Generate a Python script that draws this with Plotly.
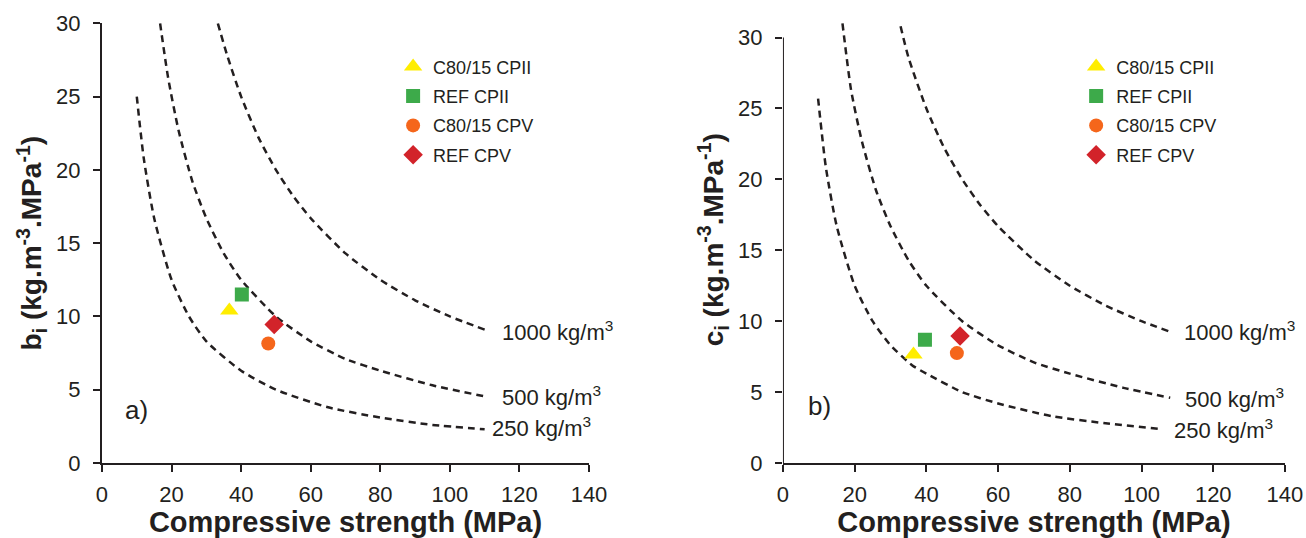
import plotly.graph_objects as go

# ---------------- data ----------------
series_names = ["C80/15 CPII", "REF CPII", "C80/15 CPV", "REF CPV"]
series_colors = ["#FFED00", "#3DAA4A", "#F5661B", "#D2232A"]
series_symbols = ["triangle-up", "square", "circle", "diamond"]
series_sizes = [16, 14, 14, 15]

# panel a) binder intensity b_i
a_strength = [36.6, 40.2, 47.8, 49.5]
a_bi = [10.4, 11.5, 8.15, 9.45]

# panel b) CO2 intensity c_i
b_strength = [36.4, 39.6, 48.5, 49.4]
b_ci = [7.65, 8.7, 7.75, 8.95]

# iso-content curves, panel a
a_250_x = [10, 12, 15, 20, 25, 30, 40, 50, 65, 80, 95, 110]
a_250_y = [25.0, 20.8, 16.7, 12.5, 10.0, 8.3, 6.3, 5.0, 3.8, 3.1, 2.6, 2.3]
a_500_x = [16.7, 19, 22, 26, 30, 35, 40, 50, 60, 70, 80, 95, 111]
a_500_y = [30.0, 26.3, 22.7, 19.2, 16.7, 14.3, 12.5, 10.0, 8.3, 7.1, 6.3, 5.3, 4.5]
a_1000_x = [33.3, 36, 40, 45, 50, 55, 60, 70, 80, 90, 100, 110]
a_1000_y = [30.0, 27.8, 25.0, 22.2, 20.0, 18.2, 16.7, 14.3, 12.5, 11.1, 10.0, 9.1]

# iso-content curves, panel b
b_250_x = [9.8, 12, 15, 20, 25, 30, 36, 40, 50, 60, 75, 90, 105]
b_250_y = [25.7, 20.8, 16.7, 12.5, 10.0, 8.3, 6.9, 6.3, 5.0, 4.2, 3.3, 2.8, 2.4]
b_500_x = [16.6, 19, 22, 26, 30, 35, 40, 50, 60, 70, 80, 95, 108]
b_500_y = [31.0, 26.3, 22.7, 19.2, 16.7, 14.3, 12.5, 10.0, 8.3, 7.1, 6.3, 5.3, 4.6]
b_1000_x = [32.8, 35, 40, 45, 50, 55, 60, 70, 80, 90, 100, 107.5]
b_1000_y = [30.8, 28.6, 25.0, 22.2, 20.0, 18.2, 16.7, 14.3, 12.5, 11.1, 10.0, 9.3]

curve_labels = ["250 kg/m<sup>3</sup>", "500 kg/m<sup>3</sup>", "1000 kg/m<sup>3</sup>"]
a_label_x = [111.5, 114.5, 114.5]
a_label_y = [2.45, 4.6, 9.0]
b_label_x = [108.5, 111.5, 111.2]
b_label_y = [2.4, 4.6, 9.3]

x_ticks = [0, 20, 40, 60, 80, 100, 120, 140]
y_ticks = [0, 5, 10, 15, 20, 25, 30]

# ---------------- figure ----------------
INK = "#231F20"
FONT = "Liberation Sans, Arial, sans-serif"
fig = go.Figure()

line_style = dict(color=INK, width=2.5, dash="7px,5px", shape="spline", smoothing=0.6)

for xs, ys in [(a_250_x, a_250_y), (a_500_x, a_500_y), (a_1000_x, a_1000_y)]:
    fig.add_trace(go.Scatter(x=xs, y=ys, mode="lines", line=line_style,
                             showlegend=False, hoverinfo="skip", xaxis="x", yaxis="y"))
for xs, ys in [(b_250_x, b_250_y), (b_500_x, b_500_y), (b_1000_x, b_1000_y)]:
    fig.add_trace(go.Scatter(x=xs, y=ys, mode="lines", line=line_style,
                             showlegend=False, hoverinfo="skip", xaxis="x2", yaxis="y2"))

for i, name in enumerate(series_names):
    fig.add_trace(go.Scatter(
        x=[a_strength[i]], y=[a_bi[i]], mode="markers", name=name,
        marker=dict(symbol=series_symbols[i], size=series_sizes[i], color=series_colors[i],
                    line=dict(width=0)),
        xaxis="x", yaxis="y", legend="legend", legendgroup="a%d" % i))
for i, name in enumerate(series_names):
    fig.add_trace(go.Scatter(
        x=[b_strength[i]], y=[b_ci[i]], mode="markers", name=name,
        marker=dict(symbol=series_symbols[i], size=series_sizes[i], color=series_colors[i],
                    line=dict(width=0)),
        xaxis="x2", yaxis="y2", legend="legend2", legendgroup="b%d" % i))

annotations = []
for lx, ly, txt in zip(a_label_x, a_label_y, curve_labels):
    annotations.append(dict(x=lx, y=ly, xref="x", yref="y", text=txt, showarrow=False,
                            xanchor="left", yanchor="middle", font=dict(size=22, color=INK)))
for lx, ly, txt in zip(b_label_x, b_label_y, curve_labels):
    annotations.append(dict(x=lx, y=ly, xref="x2", yref="y2", text=txt, showarrow=False,
                            xanchor="left", yanchor="middle", font=dict(size=22, color=INK)))
annotations.append(dict(x=9.9, y=3.6, xref="x", yref="y", text="a)", showarrow=False,
                        xanchor="center", yanchor="middle", font=dict(size=26, color=INK)))
annotations.append(dict(x=10.2, y=4.0, xref="x2", yref="y2", text="b)", showarrow=False,
                        xanchor="center", yanchor="middle", font=dict(size=26, color=INK)))

xaxis_common = dict(range=[0, 140], tickvals=x_ticks, ticks="outside", ticklen=7, tickwidth=2,
                    tickcolor=INK, showline=True, linewidth=2, linecolor=INK, showgrid=False,
                    zeroline=False, tickfont=dict(size=22, color=INK), fixedrange=True,
                    automargin=False, ticklabelstandoff=4)
yaxis_common = dict(tickvals=y_ticks, ticks="outside", ticklen=7, tickwidth=2, tickcolor=INK,
                    linewidth=2, linecolor=INK, showgrid=False, zeroline=False,
                    tickfont=dict(size=22, color=INK), fixedrange=True, ticklabelstandoff=8,
                    automargin=False)
xtitle = dict(text="<b>Compressive strength (MPa)</b>", font=dict(size=29, color=INK), standoff=4)

legend_common = dict(font=dict(size=18, color=INK), bgcolor="rgba(0,0,0,0)", borderwidth=0,
                     xanchor="left", yanchor="top", tracegroupgap=3, itemsizing="trace")

fig.update_layout(
    width=1306, height=538,
    margin=dict(l=0, r=0, t=0, b=0, autoexpand=False),
    paper_bgcolor="white", plot_bgcolor="white",
    font=dict(family=FONT, color=INK),
    xaxis=dict(domain=[0.0781, 0.4510], anchor="y", title=xtitle, **xaxis_common),
    yaxis=dict(domain=[0.1394, 0.9567], anchor="x", range=[0, 30], showline=True,
               title=dict(text="<b>b<sub>i</sub> (kg.m<sup>-3</sup>.MPa<sup>-1</sup>)</b>",
                          font=dict(size=28, color=INK), standoff=6),
               **yaxis_common),
    xaxis2=dict(domain=[0.5995, 0.9839], anchor="y2", title=xtitle, **xaxis_common),
    yaxis2=dict(domain=[0.1394, 0.9697], anchor="x2", range=[0, 31.5], showline=False,
                title=dict(text="<b>c<sub>i</sub> (kg.m<sup>-3</sup>.MPa<sup>-1</sup>)</b>",
                           font=dict(size=28, color=INK), standoff=6),
                **yaxis_common),
    legend=dict(x=0.301, y=0.91, **legend_common),
    legend2=dict(x=0.824, y=0.91, **legend_common),
    annotations=annotations,
    shapes=[dict(type="line", xref="x2", yref="y2", x0=0, x1=0, y0=0, y1=max(y_ticks),
                 line=dict(color=INK, width=2))],
)

fig.write_html("out.html")
